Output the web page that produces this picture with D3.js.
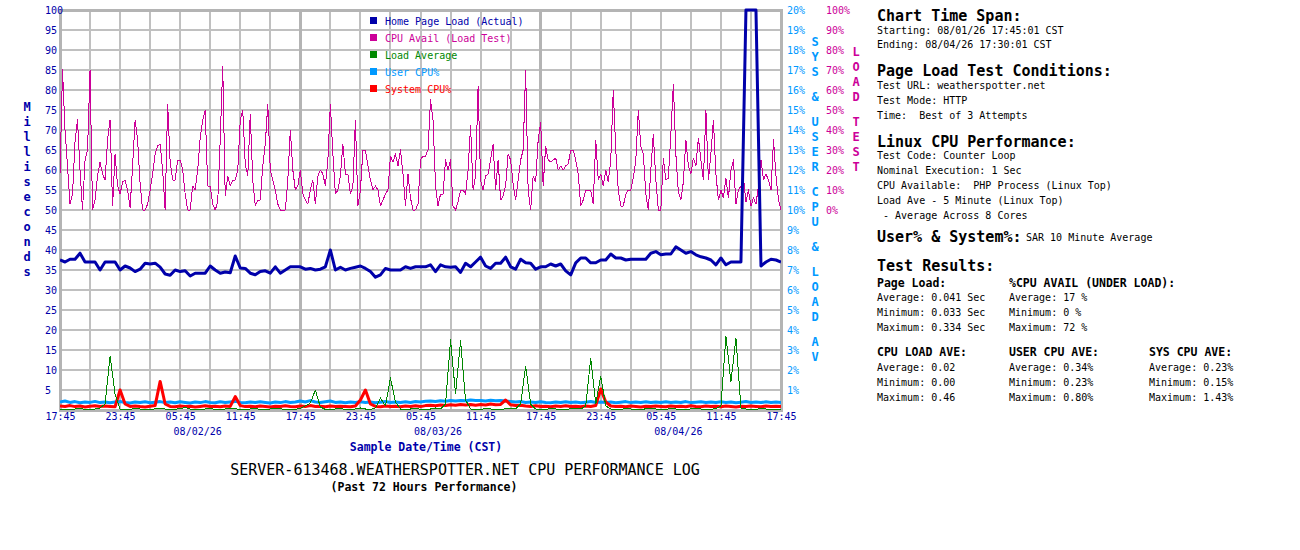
<!DOCTYPE html>
<html>
<head>
<meta charset="utf-8">
<script src="https://cdn.jsdelivr.net/npm/d3@7/dist/d3.min.js"></script>
<style>
	body { margin: 0; background: #fff; }
	svg { display: block; }
	text { font-family: "DejaVu Sans Mono", "Liberation Mono", monospace; white-space: pre; }
</style>
</head>
<body>
<div id="chart"></div>
<script>
// page load, load avg, user/sys cpu: one sample per 30 min from 08/01 17:45
const pageLoad = [
	37.5, 37, 37.7, 37.7, 39.2, 37, 37, 37, 35, 37,
	37, 37, 35, 36, 35.5, 34.6, 35.2, 36.7, 36.5, 36.7,
	35.7, 34, 33.7, 35, 34.6, 34.8, 33.5, 34.2, 34.2, 34.2,
	36, 35, 34.2, 34.5, 34.3, 38.5, 35.5, 35.4, 34.2, 33.8,
	34.6, 34.8, 34.2, 35.8, 34.2, 35, 35.8, 35.8, 35.8, 35.2,
	35.4, 35, 35.2, 35.8, 40, 35, 35.7, 35, 35.4, 35.7,
	36, 35.4, 34.6, 33.2, 33.8, 35.4, 35, 35, 35, 35.8,
	35.4, 35.8, 35.8, 35.8, 36.3, 34.6, 36.3, 35.8, 35.7, 35.8,
	34.4, 36.7, 35.8, 37, 38.2, 36, 35.4, 36.7, 36.7, 38.2,
	35.8, 35.2, 37.7, 36.8, 36.7, 35.2, 35.8, 35.8, 36.5, 36,
	36.5, 34.8, 33.8, 36.8, 38, 38, 36.8, 36.8, 37.5, 37.5,
	39, 38, 38, 37.5, 37.7, 37.7, 37.7, 37.7, 39.2, 39.6,
	38.8, 39, 39, 40.8, 40, 39.2, 39.6, 38.8, 38.3, 38,
	37.5, 36.3, 38, 36.3, 37, 37, 37, 334, 334, 250,
	36, 37, 37.7, 37.5, 37
];

// cpu available under load test: one sample per 15 min
const cpuAvail = [
	18, 70, 40, 22, 3, 8, 34, 45, 20, 0, 25, 30,
	70, 0, 5, 17, 24, 18, 15, 35, 45, 2, 28, 12,
	8, 14, 15, 10, 1, 22, 45, 35, 13, 0, 0, 3,
	10, 18, 28, 32, 33, 20, 0, 53, 24, 15, 15, 25,
	25, 20, 8, 0, 0, 12, 10, 20, 36, 45, 50, 12,
	12, 3, 0, 4, 35, 72, 7, 17, 12, 15, 15, 20,
	45, 50, 23, 17, 48, 15, 2, 5, 5, 22, 33, 53,
	20, 15, 10, 3, 0, 0, 0, 15, 40, 20, 10, 12,
	20, 8, 5, 3, 10, 15, 3, 17, 20, 18, 12, 25,
	53, 28, 8, 10, 17, 33, 18, 18, 8, 12, 45, 2,
	10, 30, 30, 22, 15, 10, 12, 10, 2, 5, 8, 10,
	27, 24, 28, 22, 30, 18, 2, 18, 6, 0, 0, 3,
	25, 27, 27, 30, 55, 45, 12, 2, 8, 8, 25, 20,
	25, 2, 0, 4, 10, 10, 8, 20, 42, 10, 17, 62,
	15, 10, 17, 18, 25, 33, 10, 25, 5, 7, 12, 28,
	25, 13, 5, 15, 25, 30, 70, 10, 0, 17, 14, 35,
	44, 12, 32, 25, 24, 25, 26, 20, 22, 20, 22, 23,
	30, 30, 25, 18, 2, 5, 10, 10, 10, 3, 35, 15,
	18, 12, 20, 14, 25, 60, 30, 10, 2, 2, 8, 10,
	10, 16, 25, 50, 32, 28, 8, 0, 20, 38, 15, 0,
	0, 26, 15, 16, 38, 63, 28, 9, 5, 14, 35, 22,
	18, 26, 22, 36, 25, 15, 50, 15, 28, 45, 18, 5,
	10, 6, 16, 6, 20, 25, 3, 10, 12, 16, 4, 10,
	2, 6, 3, 12, 25, 15, 18, 15, 10, 35, 17, 5, 0
];

const loadAvg = [
	0.05, 0.02, 0.00, 0.05, 0.08, 0.03, 0.00, 0.05, 0.10, 0.30,
	2.70, 0.80, 0.05, 0.00, 0.03, 0.08, 0.05, 0.00, 0.02, 0.06,
	0.10, 0.05, 0.00, 0.03, 0.08, 0.12, 0.05, 0.02, 0.00, 0.05,
	0.08, 0.03, 0.00, 0.05, 0.10, 0.06, 0.02, 0.00, 0.05, 0.08,
	0.03, 0.00, 0.05, 0.10, 0.06, 0.02, 0.00, 0.04, 0.08, 0.20,
	0.35, 1.00, 0.15, 0.03, 0.00, 0.05, 0.08, 0.03, 0.00, 0.05,
	0.10, 0.05, 0.02, 0.10, 0.60, 0.20, 1.60, 0.40, 0.05, 0.00,
	0.05, 0.08, 0.03, 0.00, 0.05, 0.10, 0.06, 0.30, 3.50, 0.80,
	3.45, 0.50, 0.05, 0.00, 0.03, 0.08, 0.05, 0.00, 0.02, 0.06,
	0.10, 0.05, 0.30, 2.20, 0.30, 0.05, 0.00, 0.03, 0.08, 0.05,
	0.00, 0.02, 0.06, 0.10, 0.05, 0.20, 2.60, 0.30, 1.70, 0.20,
	0.05, 0.00, 0.03, 0.08, 0.05, 0.00, 0.02, 0.06, 0.10, 0.05,
	0.00, 0.03, 0.08, 0.05, 0.00, 0.02, 0.06, 0.10, 0.05, 0.00,
	0.03, 0.08, 0.20, 3.70, 1.40, 3.60, 0.10, 0.05, 0.00, 0.03,
	0.08, 0.05, 0.00, 0.03, 0.05
];

const userCpu = [
	0.40, 0.45, 0.38, 0.42, 0.36, 0.40, 0.38, 0.43, 0.37, 0.40,
	0.36, 0.40, 0.42, 0.38, 0.35, 0.40, 0.37, 0.41, 0.36, 0.39,
	0.42, 0.37, 0.40, 0.36, 0.41, 0.38, 0.35, 0.40, 0.37, 0.42,
	0.38, 0.36, 0.41, 0.37, 0.40, 0.43, 0.38, 0.36, 0.40, 0.37,
	0.41, 0.38, 0.35, 0.40, 0.37, 0.42, 0.38, 0.40, 0.45, 0.40,
	0.47, 0.40, 0.37, 0.41, 0.45, 0.38, 0.40, 0.36, 0.40, 0.37,
	0.41, 0.38, 0.40, 0.36, 0.39, 0.42, 0.38, 0.40, 0.37, 0.41,
	0.38, 0.42, 0.40, 0.44, 0.45, 0.42, 0.46, 0.44, 0.47, 0.45,
	0.48, 0.46, 0.50, 0.47, 0.48, 0.45, 0.49, 0.46, 0.48, 0.45,
	0.43, 0.40, 0.42, 0.38, 0.40, 0.37, 0.41, 0.38, 0.36, 0.40,
	0.37, 0.41, 0.38, 0.40, 0.36, 0.39, 0.42, 0.38, 0.40, 0.37,
	0.40, 0.36, 0.39, 0.42, 0.37, 0.40, 0.38, 0.41, 0.37, 0.40,
	0.38, 0.41, 0.37, 0.40, 0.38, 0.42, 0.37, 0.39, 0.41, 0.38,
	0.40, 0.37, 0.41, 0.38, 0.40, 0.36, 0.39, 0.42, 0.38, 0.40,
	0.37, 0.41, 0.38, 0.40, 0.38
];

const sysCpu = [
	0.20, 0.18, 0.22, 0.17, 0.20, 0.15, 0.19, 0.21, 0.17, 0.20,
	0.18, 0.16, 1.00, 0.30, 0.18, 0.20, 0.17, 0.15, 0.19, 0.22,
	1.43, 0.30, 0.18, 0.16, 0.20, 0.17, 0.19, 0.15, 0.18, 0.21,
	0.17, 0.19, 0.16, 0.20, 0.18, 0.67, 0.22, 0.17, 0.19, 0.16,
	0.20, 0.18, 0.15, 0.19, 0.17, 0.21, 0.18, 0.16, 0.20, 0.17,
	0.22, 0.18, 0.19, 0.16, 0.20, 0.17, 0.19, 0.18, 0.16, 0.20,
	0.50, 1.00, 0.30, 0.18, 0.16, 0.20, 0.17, 0.19, 0.16, 0.20,
	0.18, 0.21, 0.17, 0.22, 0.24, 0.21, 0.25, 0.23, 0.26, 0.24,
	0.27, 0.25, 0.28, 0.24, 0.27, 0.25, 0.30, 0.26, 0.28, 0.50,
	0.26, 0.22, 0.24, 0.20, 0.18, 0.21, 0.17, 0.19, 0.16, 0.20,
	0.18, 0.21, 0.17, 0.19, 0.16, 0.20, 0.18, 0.22, 1.05, 0.40,
	0.20, 0.17, 0.19, 0.16, 0.20, 0.18, 0.15, 0.19, 0.17, 0.20,
	0.18, 0.16, 0.20, 0.17, 0.19, 0.16, 0.21, 0.18, 0.16, 0.20,
	0.17, 0.19, 0.16, 0.20, 0.18, 0.15, 0.19, 0.17, 0.20, 0.18,
	0.16, 0.20, 0.17, 0.19, 0.18
];

const msTicks = d3.range(5, 101, 5);
const sysTicks = d3.range(1, 21);
const loadTicks = d3.range(0, 101, 10);
const timeLabels = ["17:45", "23:45", "05:45", "11:45", "17:45", "23:45", "05:45",
	"11:45", "17:45", "23:45", "05:45", "11:45", "17:45"];
const dateLabels = ["08/02/26", "08/03/26", "08/04/26"];

const legendNames = ["Home Page Load (Actual)", "CPU Avail (Load Test)", "Load Average", "User CPU%", "System CPU%"];
const legendColors = ["#0000aa", "#cc0099", "#008800", "#0099ff", "#ff0000"];

const statHeads1 = ["Page Load:", "%CPU AVAIL (UNDER LOAD):"];
const pageStats = ["Average: 0.041 Sec", "Minimum: 0.033 Sec", "Maximum: 0.334 Sec"];
const cpuAvailStats = ["Average: 17 %", "Minimum: 0 %", "Maximum: 72 %"];
const statHeads2 = ["CPU LOAD AVE:", "USER CPU AVE:", "SYS CPU AVE:"];
const loadStats = ["Average: 0.02", "Minimum: 0.00", "Maximum: 0.46"];
const userStats = ["Average: 0.34%", "Minimum: 0.23%", "Maximum: 0.80%"];
const sysStats = ["Average: 0.23%", "Minimum: 0.15%", "Maximum: 1.43%"];

const width = 1300, height = 550;
const plot = { left: 60, right: 781, top: 10, bottom: 410 };
const navy = "#0000aa", magenta = "#cc0099", sky = "#0099ff";

const svg = d3.select("#chart").append("svg")
	.attr("width", width)
	.attr("height", height);

// x in hours since 08/01 17:45
const x = d3.scaleLinear().domain([0, 72]).range([plot.left, plot.right]);
const yMs = d3.scaleLinear().domain([0, 100]).range([plot.bottom, plot.top]).clamp(true);
const yLoad = d3.scaleLinear().domain([0, 100]).range([210, plot.top]);
const ySys = d3.scaleLinear().domain([0, 20]).range([plot.bottom, plot.top]);

// grid
const grid = svg.append("g").attr("shape-rendering", "crispEdges");
grid.selectAll("line.h")
	.data(msTicks.slice(0, -1))
	.enter().append("line")
	.attr("x1", plot.left).attr("x2", plot.right)
	.attr("y1", d => yMs(d)).attr("y2", d => yMs(d))
	.attr("stroke", "#c0c0c0").attr("stroke-width", 2);
grid.selectAll("line.v")
	.data(d3.range(3, 72, 3))
	.enter().append("line")
	.attr("x1", d => x(d)).attr("x2", d => x(d))
	.attr("y1", plot.top).attr("y2", plot.bottom)
	.attr("stroke", d => d % 24 == 0 ? "#b4b4b4" : "#c0c0c0")
	.attr("stroke-width", d => d % 24 == 0 ? 3 : 2);
grid.append("rect")
	.attr("x", plot.left).attr("y", plot.top)
	.attr("width", plot.right - plot.left).attr("height", plot.bottom - plot.top)
	.attr("fill", "none").attr("stroke", "#b4b4b4").attr("stroke-width", 3);

// legend
const leg = svg.append("g");
legendNames.forEach((n, i) => {
	leg.append("rect")
		.attr("x", 370).attr("y", 17 + i * 17)
		.attr("width", 7).attr("height", 7)
		.attr("fill", legendColors[i]);
	leg.append("text")
		.attr("x", 385).attr("y", 21 + i * 17)
		.attr("dominant-baseline", "central")
		.attr("font-size", 10)
		.attr("fill", legendColors[i])
		.text(n);
});

// series
svg.append("clipPath").attr("id", "clip")
	.append("rect").attr("x", plot.left).attr("y", plot.top - 2)
	.attr("width", plot.right - plot.left).attr("height", plot.bottom - plot.top + 2);

const lines = svg.append("g").attr("clip-path", "url(#clip)").attr("fill", "none");

function drawLine(data, step, yScale, color, w, crisp) {
	lines.append("path")
		.datum(data)
		.attr("stroke", color)
		.attr("stroke-width", w)
		.attr("stroke-linejoin", "round")
		.attr("shape-rendering", crisp ? "crispEdges" : "auto")
		.attr("d", d3.line().x((d, i) => x(i * step)).y(d => yScale(d)));
}

drawLine(cpuAvail, 0.25, yLoad, magenta, 1, true);
drawLine(userCpu, 0.5, ySys, sky, 3);
drawLine(sysCpu, 0.5, ySys, "#ff0000", 3);
drawLine(loadAvg, 0.5, ySys, "#008800", 1, true);
drawLine(pageLoad, 0.5, yMs, navy, 3);

// axes
function styleAxis(g, color) {
	g.select(".domain").remove();
	g.selectAll("text")
		.attr("font-family", "'DejaVu Sans Mono', monospace")
		.attr("font-size", 10)
		.attr("fill", color);
}

svg.append("g")
	.attr("transform", "translate(45,0)")
	.call(d3.axisRight(yMs).tickValues(msTicks).tickSize(0).tickPadding(0))
	.call(g => styleAxis(g, navy));

svg.append("g")
	.attr("transform", "translate(787,0)")
	.call(d3.axisRight(ySys).tickValues(sysTicks).tickSize(0).tickPadding(0).tickFormat(d => d + "%"))
	.call(g => styleAxis(g, sky));

svg.append("g")
	.attr("transform", "translate(826,0)")
	.call(d3.axisRight(yLoad).tickValues(loadTicks).tickSize(0).tickPadding(0).tickFormat(d => d + "%"))
	.call(g => styleAxis(g, magenta));

svg.append("g")
	.attr("transform", "translate(0," + plot.bottom + ")")
	.call(d3.axisBottom(x).tickValues(d3.range(0, 73, 6)).tickSize(0).tickPadding(3)
		.tickFormat((d, i) => timeLabels[i]))
	.call(g => styleAxis(g, navy));

svg.append("g").selectAll("text")
	.data(dateLabels)
	.enter().append("text")
	.attr("x", (d, i) => x(13.75 + i * 24))
	.attr("y", 431)
	.attr("text-anchor", "middle")
	.attr("dominant-baseline", "central")
	.attr("font-size", 10)
	.attr("fill", navy)
	.text(d => d);

// stacked vertical titles
function stackText(str, xPos, y0, color) {
	let y = y0;
	const g = svg.append("g");
	for (const ch of str) {
		if (ch == " ") { y += 10; continue; }
		g.append("text")
			.attr("x", xPos).attr("y", y)
			.attr("text-anchor", "middle")
			.attr("dominant-baseline", "central")
			.attr("font-size", 12)
			.attr("font-weight", "bold")
			.attr("fill", color)
			.text(ch);
		y += 15;
	}
}
stackText("Milliseconds", 27, 107, navy);
stackText("SYS & USER CPU & LOAD AV", 815, 42, sky);
stackText("LOAD TEST", 856, 52, magenta);

svg.append("text")
	.attr("x", 426).attr("y", 447)
	.attr("text-anchor", "middle").attr("dominant-baseline", "central")
	.attr("font-size", 11.5).attr("font-weight", "bold").attr("fill", navy)
	.text("Sample Date/Time (CST)");

svg.append("text")
	.attr("x", 465).attr("y", 470)
	.attr("text-anchor", "middle").attr("dominant-baseline", "central")
	.attr("font-size", 15).attr("fill", "#000")
	.text("SERVER-613468.WEATHERSPOTTER.NET CPU PERFORMANCE LOG");

svg.append("text")
	.attr("x", 424).attr("y", 487)
	.attr("text-anchor", "middle").attr("dominant-baseline", "central")
	.attr("font-size", 11.5).attr("font-weight", "bold").attr("fill", "#000")
	.text("(Past 72 Hours Performance)");

// info panel
const info = svg.append("g").attr("fill", "#000");
function put(xPos, y, str, size, bold) {
	info.append("text")
		.attr("x", xPos).attr("y", y)
		.attr("dominant-baseline", "central")
		.attr("font-size", size)
		.attr("font-weight", bold ? "bold" : "normal")
		.text(str);
}
put(877, 16, "Chart Time Span:", 15, true);
put(877, 30, "Starting: 08/01/26 17:45:01 CST", 10);
put(877, 44.5, "Ending: 08/04/26 17:30:01 CST", 10);
put(877, 71, "Page Load Test Conditions:", 15, true);
put(877, 85.5, "Test URL: weatherspotter.net", 10);
put(877, 100, "Test Mode: HTTP", 10);
put(877, 115, "Time:  Best of 3 Attempts", 10);
put(877, 141.5, "Linux CPU Performance:", 15, true);
put(877, 155, "Test Code: Counter Loop", 10);
put(877, 170, "Nominal Execution: 1 Sec", 10);
put(877, 185, "CPU Available:  PHP Process (Linux Top)", 10);
put(877, 200, "Load Ave - 5 Minute (Linux Top)", 10);
put(877, 215, " - Average Across 8 Cores", 10);
put(877, 237, "User% & System%:", 15, true);
put(1026, 237.5, "SAR 10 Minute Average", 10);
put(877, 266, "Test Results:", 15, true);

put(877, 282.5, statHeads1[0], 11.5, true);
put(1009, 282.5, statHeads1[1], 11.5, true);
pageStats.forEach((s, i) => put(877, 297.5 + i * 15, s, 10));
cpuAvailStats.forEach((s, i) => put(1009, 297.5 + i * 15, s, 10));

[877, 1009, 1149].forEach((xp, k) => put(xp, 352, statHeads2[k], 11.5, true));
loadStats.forEach((s, i) => put(877, 367 + i * 15, s, 10));
userStats.forEach((s, i) => put(1009, 367 + i * 15, s, 10));
sysStats.forEach((s, i) => put(1149, 367 + i * 15, s, 10));
</script>
</body>
</html>
